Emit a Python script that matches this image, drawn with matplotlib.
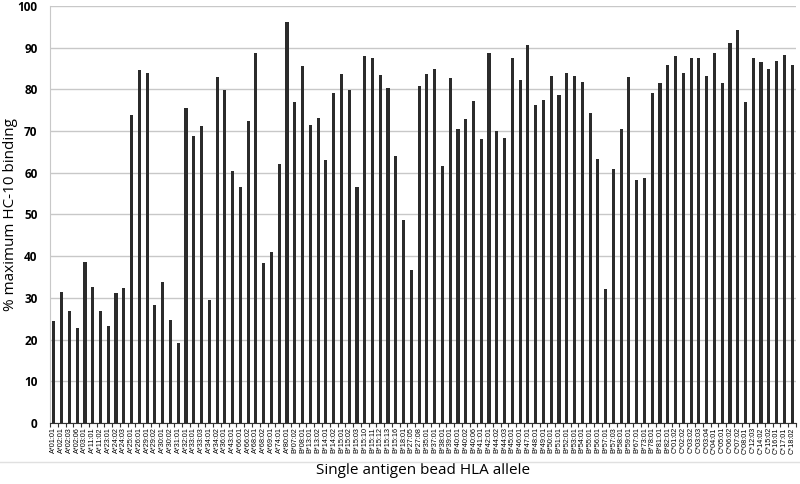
import matplotlib
matplotlib.use("Agg")
import matplotlib.pyplot as plt
import numpy as np

alleles = [
    "A*01:01", "A*02:01", "A*02:03", "A*02:06", "A*03:01", "A*11:01", "A*11:02", "A*23:01",
    "A*24:02", "A*24:03", "A*25:01", "A*26:01", "A*29:01", "A*29:02", "A*30:01", "A*30:02",
    "A*31:01", "A*32:01", "A*33:01", "A*33:03", "A*34:01", "A*34:02", "A*36:01", "A*43:01",
    "A*66:01", "A*66:02", "A*68:01", "A*68:02", "A*69:01", "A*74:01", "A*80:01",
    "B*07:02", "B*08:01", "B*13:01", "B*13:02", "B*14:01", "B*14:02", "B*15:01", "B*15:02",
    "B*15:03", "B*15:10", "B*15:11", "B*15:12", "B*15:13", "B*15:16", "B*18:01", "B*27:05",
    "B*27:08", "B*35:01", "B*37:01", "B*38:01", "B*39:01", "B*40:01", "B*40:02", "B*40:06",
    "B*41:01", "B*42:01", "B*44:02", "B*44:03", "B*45:01", "B*46:01", "B*47:01", "B*48:01",
    "B*49:01", "B*50:01", "B*51:01", "B*52:01", "B*53:01", "B*54:01", "B*55:01", "B*56:01",
    "B*57:01", "B*57:03", "B*58:01", "B*59:01", "B*67:01", "B*73:01", "B*78:01", "B*81:01",
    "B*82:01",
    "C*01:02", "C*02:02", "C*03:02", "C*03:03", "C*03:04", "C*04:01", "C*05:01", "C*06:02",
    "C*07:02", "C*08:01", "C*12:03", "C*14:02", "C*15:02", "C*16:01", "C*17:01", "C*18:02",
]

binding = [
    24.4, 31.3, 26.8, 22.8, 38.7, 32.7, 26.8, 23.3, 31.2, 32.3, 73.9, 84.5, 83.9, 28.4, 33.7, 24.8,
    19.2, 75.4, 68.8, 71.1, 29.4, 82.9, 79.9, 60.5, 56.5, 72.3, 88.8, 38.3, 40.9, 62.1, 96.0,
    76.9, 85.5, 71.4, 73.1, 63.0, 79.1, 83.7, 79.9, 56.5, 87.9, 87.5, 83.4, 80.4, 64.1, 48.7,
    36.6, 80.8, 83.6, 84.9, 61.5, 82.8, 70.5, 72.8, 77.3, 68.1, 88.8, 70.0, 68.2, 87.4, 82.3,
    90.7, 76.3, 77.4, 83.1, 78.6, 83.8, 83.1, 81.8, 74.4, 63.3, 32.1, 61.0, 70.4, 83.0, 58.3,
    58.8, 79.0, 81.5, 85.7,
    88.0, 83.8, 87.5, 87.6, 83.1, 88.8, 81.6, 91.0, 94.2, 76.9, 87.6, 86.5, 84.8, 86.8, 88.1, 85.9,
]

plt.rcParams["font.family"] = ["Open Sans", "DejaVu Sans"]

fig = plt.figure(figsize=(8, 4.84), dpi=100)
ax = fig.add_axes([0.0625, 0.126, 0.9325, 0.862])

x = np.arange(len(alleles))
ax.bar(x, binding, width=0.4, color="#2b2b2b", zorder=3)

ax.set_xlim(-0.5, len(alleles) - 0.5)
ax.set_ylim(0, 100)
ax.set_yticks(np.arange(0, 101, 10))
ax.yaxis.grid(True, color="#c8c8c8", linewidth=1.0, zorder=0)
ax.tick_params(axis="y", length=0, labelsize=8.5, pad=9)
for lbl in ax.get_yticklabels():
    lbl.set_fontweight("bold")

ax.set_xticks(x)
ax.set_xticklabels(alleles, rotation=90, fontsize=5.2, family=["Liberation Sans", "DejaVu Sans"])
ax.tick_params(axis="x", length=0, pad=3)
ax.set_xticks(np.arange(-0.5, len(alleles), 1), minor=True)
ax.tick_params(axis="x", which="minor", length=3, color="#333333", width=0.8)

for side in ["top", "right"]:
    ax.spines[side].set_visible(False)
ax.spines["left"].set_color("#c8c8c8")
ax.spines["bottom"].set_color("#333333")

ax.set_ylabel("% maximum HC-10 binding", fontsize=11, va="center")
ax.yaxis.set_label_coords(-0.0535, 0.5)
ax.set_xlabel("Single antigen bead HLA allele", fontsize=11, va="center")
ax.xaxis.set_label_coords(0.5, -0.113)

fig.add_artist(plt.Line2D([0.0, 1.0], [1 - 462 / 484, 1 - 462 / 484],
                          transform=fig.transFigure, color="#e0e0e0", linewidth=1))

fig.savefig("out.png", dpi=100)
